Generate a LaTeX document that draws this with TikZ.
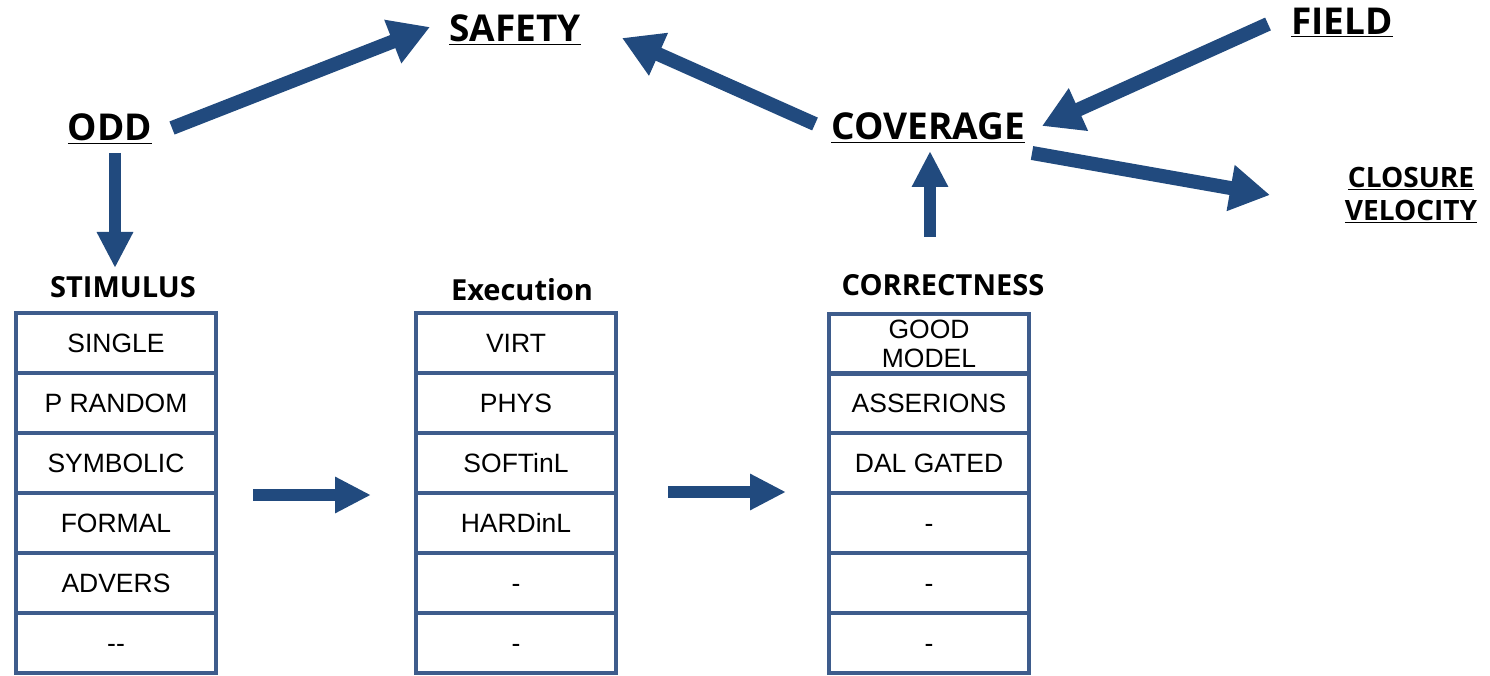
\documentclass[tikz,border=0pt]{standalone}
\usepackage{fontspec}
\setmainfont{Liberation Sans}
\newfontfamily\headfont{Open Sans}
\usetikzlibrary{arrows.meta}
\definecolor{cellblue}{RGB}{62,92,140}
\definecolor{arrowblue}{RGB}{33,74,126}
\begin{document}
\begin{tikzpicture}[x=1pt,y=-1pt,
  cell/.style={draw=cellblue, line width=4pt, minimum width=200pt, minimum height=60pt,
    inner sep=0pt, text height=19pt, text depth=0pt, font=\fontsize{26.5}{29}\selectfont},
  twoline/.style={text height=, text depth=, align=center, font=\fontsize{26.5}{29.5}\selectfont},
  title/.style={anchor=base, inner sep=0pt, font=\headfont\bfseries\fontsize{37}{40}\selectfont},
  colhead/.style={anchor=base, inner sep=0pt, font=\headfont\bfseries\fontsize{29}{33}\selectfont},
  subtitle/.style={anchor=base, inner sep=0pt, font=\headfont\bfseries\fontsize{28}{32}\selectfont},
  bigarrow/.style={draw=arrowblue, line width=14pt, -{Triangle[width=44pt,length=40pt]}},
  smallarrow/.style={draw=arrowblue, line width=12pt, -{Triangle[width=34pt,length=36pt]}}]
\useasboundingbox (0,0) rectangle (1490,676);

% top level concepts
\node[title] (safety) at (515,42) {\underline{SAFETY}};
\node[title] (odd) at (110,141) {\underline{ODD}};
\node[title] (coverage) at (928,140) {\underline{COVERAGE}};
\node[title] (field) at (1342,35) {\underline{FIELD}};
\node[subtitle] (closure) at (1411,188) {\underline{CLOSURE}};
\node[subtitle] (velocity) at (1411,221) {\underline{VELOCITY}};

% column headings
\node[colhead] (stimulus) at (123,297) {STIMULUS};
\node[colhead] (execution) at (522,300) {Execution};
\node[colhead] (correctness) at (943,295) {CORRECTNESS};

% the three columns of cells
\foreach \t [count=\i] in {SINGLE, P RANDOM, SYMBOLIC, FORMAL, ADVERS, {-}{-}}
  \node[cell] (stim\i) at (116,283+60*\i) {\t};
\foreach \t [count=\i] in {VIRT, PHYS, SOFTinL, HARDinL, -, -}
  \node[cell] (exec\i) at (516,283+60*\i) {\t};
\node[cell, twoline] (corr1) at (929,344) {GOOD\\MODEL};
\foreach \t [count=\i from 2] in {ASSERIONS, DAL GATED, -, -, -}
  \node[cell] (corr\i) at (929,283+60*\i) {\t};

% arrow end points
\coordinate (oddR) at (172,128);
\coordinate (safL) at (430,27);
\coordinate (covL) at (815,124);
\coordinate (safR) at (622,38);
\coordinate (fieldL) at (1268,24);
\coordinate (covR) at (1042,126);
\coordinate (covRb) at (1032,153);
\coordinate (cloL) at (1270,195);
\coordinate (corrT) at (930,237);
\coordinate (covB) at (930,151);
\coordinate (oddB) at (115,153);
\coordinate (stimT) at (115,268);
\coordinate (stimR) at (253,495);
\coordinate (execL) at (371,495);
\coordinate (execR) at (668,492);
\coordinate (corrL) at (786,492);

% connectors
\draw[bigarrow] (oddR) -- (safL);
\draw[bigarrow] (covL) -- (safR);
\draw[bigarrow] (fieldL) -- (covR);
\draw[bigarrow] (covRb) -- (cloL);
\draw[smallarrow] (corrT) -- (covB);
\draw[smallarrow] (oddB) -- (stimT);
\draw[smallarrow] (stimR) -- (execL);
\draw[smallarrow] (execR) -- (corrL);
\end{tikzpicture}
\end{document}
